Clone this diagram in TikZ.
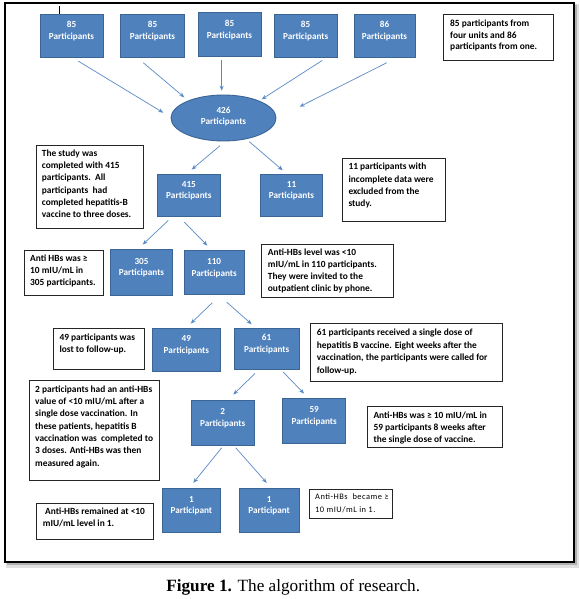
\documentclass[tikz,border=0pt]{standalone}
\usepackage{fontspec}
\setmainfont{Carlito}
\newfontfamily\capfont{Liberation Serif}
\newfontfamily\widefont[LetterSpace=6]{Carlito}
\usetikzlibrary{arrows.meta,shapes.geometric,calc}
\definecolor{boxblue}{HTML}{4F81BD}
\definecolor{boxedge}{HTML}{3A6595}
\definecolor{arrblue}{HTML}{5A8AC6}
\begin{document}
\begin{tikzpicture}[x=1pt,y=-1pt,
  pbox/.style={rectangle, draw=boxedge, fill=boxblue, line width=0.9pt, inner sep=0pt},
  btxt/.style={font=\fontsize{9.2}{11.5}\selectfont\bfseries, text=white, align=center, inner sep=0pt, yshift=4.5pt},
  notebox/.style={rectangle, draw=black!85, fill=white, line width=0.8pt, inner sep=0pt},
  ntxt/.style={anchor=north west, inner sep=0pt, align=left, font=\fontsize{9.4}{#1}\selectfont\bfseries},
  ntxt/.default={12.2},
  arr/.style={draw=arrblue, line width=0.7pt, -{Stealth[length=5pt,width=4pt]}}
]
% background and bounding box
\fill[white] (0,0) rectangle (579,599);
\useasboundingbox (0,0) rectangle (579,599);
% frame with shadow
\fill[black!12] (5.5,4.5) rectangle (578.5,567.5);
\fill[black!30] (6.5,5) rectangle (577,565);
\draw[line width=2pt, fill=white] (4.7,3) rectangle (574,561.5);
% stray tick mark
\draw[line width=0.9pt] (59,6) -- (59,15);
\draw[orange, line width=0.9pt] (59,15) -- (59,16.7);

% blue boxes
\node[pbox, minimum width=63pt, minimum height=43pt, label={[btxt]center:{85\\Participants}}] (b1) at (71.5,35.5) {};
\node[pbox, minimum width=63.6pt, minimum height=43pt, label={[btxt]center:{85\\Participants}}] (b2) at (152.5,35.5) {};
\node[pbox, minimum width=63pt, minimum height=43.3pt, label={[btxt]center:{85\\Participants}}] (b3) at (229.5,34.35) {};
\node[pbox, minimum width=63.3pt, minimum height=43pt, label={[btxt]center:{85\\Participants}}] (b4) at (305.65,35.5) {};
\node[pbox, minimum width=61pt, minimum height=43pt, label={[btxt]center:{86\\Participants}}] (b5) at (384.5,35.5) {};
\node[ellipse, draw=boxedge, fill=boxblue, line width=0.9pt, inner sep=0pt, minimum width=105pt, minimum height=46pt, label={[btxt, yshift=-3.2pt]center:{426\\Participants}}] (ell) at (223.5,118) {};
\node[pbox, minimum width=62.3pt, minimum height=42.7pt, label={[btxt]center:{415\\Participants}}] (b415) at (188.85,195.35) {};
\node[pbox, minimum width=61.6pt, minimum height=42.7pt, label={[btxt]center:{11\\Participants}}] (b11) at (291.5,195.35) {};
\node[pbox, minimum width=61.6pt, minimum height=45.7pt, label={[btxt]center:{305\\Participants}}] (b305) at (141.5,272.15) {};
\node[pbox, minimum width=60.3pt, minimum height=43.6pt, label={[btxt]center:{110\\Participants}}] (b110) at (214.15,272.5) {};
\node[pbox, minimum width=67.3pt, minimum height=43.7pt, label={[btxt]center:{49\\Participants}}] (b49) at (186.35,349.85) {};
\node[pbox, minimum width=64.7pt, minimum height=41pt, label={[btxt]center:{61\\Participants}}] (b61) at (266.65,348.5) {};
\node[pbox, minimum width=63.3pt, minimum height=45pt, label={[btxt]center:{2\\Participants}}] (b2p) at (222.65,422.5) {};
\node[pbox, minimum width=63pt, minimum height=44.7pt, label={[btxt]center:{59\\Participants}}] (b59) at (314.2,420.65) {};
\node[pbox, minimum width=57.3pt, minimum height=44.3pt, label={[btxt]center:{1\\Participant}}] (b1L) at (191.35,510.15) {};
\node[pbox, minimum width=59.7pt, minimum height=44.3pt, label={[btxt]center:{1\\Participant}}] (b1R) at (269.15,510.15) {};

% note frames
\node[notebox, minimum width=110pt, minimum height=46pt] (n1) at (498.3,37) {};
\node[notebox, minimum width=107.3pt, minimum height=83.3pt] (n2) at (89.65,186.65) {};
\node[notebox, minimum width=103.4pt, minimum height=62.7pt] (n3) at (394,189.65) {};
\node[notebox, minimum width=79pt, minimum height=44.3pt] (n4) at (63.8,272.85) {};
\node[notebox, minimum width=132.3pt, minimum height=53.4pt] (n5) at (327.15,271) {};
\node[notebox, minimum width=90.7pt, minimum height=40.7pt] (n6) at (98.65,348.65) {};
\node[notebox, minimum width=191.6pt, minimum height=58.4pt] (n7) at (406.5,352.5) {};
\node[notebox, minimum width=129.7pt, minimum height=100pt] (n8) at (94.15,430.7) {};
\node[notebox, minimum width=135pt, minimum height=41pt] (n9) at (434.8,426.8) {};
\node[notebox, minimum width=117.3pt, minimum height=36.4pt] (n10) at (94.65,521.5) {};
\node[notebox, minimum width=83.3pt, minimum height=29.3pt] (n11) at (350.65,503.65) {};

% note texts
\node[ntxt=11.7] (t1) at (450,18.1) {\strut 85 participants from\\four units and 86\\participants from one.};
\node[ntxt] (t2) at (41.7,147.8) {\strut The study was\\completed with 415\\participants.\ \ All\\participants\ \ had\\completed hepatitis-B\\vaccine to three doses.};
\node[ntxt] (t3) at (348.3,161.2) {\strut 11 participants with\\incomplete data were\\excluded from the\\study.};
\node[ntxt] (t4) at (30,252.8) {\strut Anti HBs was ≥\\10 mIU/mL in\\305 participants.};
\node[ntxt=11.9] (t5) at (267.7,247.4) {\strut Anti-HBs level was <10\\mIU/mL in 110 participants.\\They were invited to the\\outpatient clinic by phone.};
\node[ntxt=11.7] (t6) at (59.3,332.1) {\strut 49 participants was\\lost to follow-up.};
\node[ntxt=12.5] (t7) at (316.7,326.6) {\strut 61 participants received a single dose of\\hepatitis B vaccine. Eight weeks after the\\vaccination, the participants were called for\\follow-up.};
\node[ntxt=12.3] (t8) at (35,383.4) {\strut 2 participants had an anti-HBs\\value of <10 mIU/mL after a\\single dose vaccination. In\\these patients, hepatitis B\\vaccination was\ \ completed to\\3 doses. Anti-HBs was then\\measured again.};
\node[ntxt=12] (t9) at (373.3,409.6) {\strut Anti-HBs was ≥ 10 mIU/mL in\\59 participants 8 weeks after\\the single dose of vaccine.};
\node[ntxt=11.6] (t10) at (42.7,506.6) {\strut\hspace{2.3pt}Anti-HBs remained at <10\\mIU/mL level in 1.};
\node[anchor=north west, inner sep=0pt, align=left, font=\widefont\fontsize{8.4}{13.4}\selectfont] (t11) at (315,490) {\strut Anti-HBs\ \ became ≥\\10 mIU/mL in 1.};

% arrows
\draw[arr] ([shift={(6.8,3.7)}]b1.south) -- ([shift={(-60.2,-5.3)}]ell.center);
\draw[arr] ([shift={(-9.2,5.3)}]b2.south) -- ([shift={(-39.2,-20.7)}]ell.center);
\draw[arr] ([shift={(-7.8,4)}]b3.south) -- ([shift={(-1.8,-27.3)}]ell.center);
\draw[arr] ([shift={(16.6,3)}]b4.south) -- ([shift={(38.2,-18.7)}]ell.center);
\draw[arr] ([shift={(2.2,5.3)}]b5.south) -- ([shift={(76.2,-11.3)}]ell.center);
\draw[arr] ([shift={(-3.5,27.7)}]ell.center) -- ([shift={(2.85,-4)}]b415.north);
\draw[arr] ([shift={(25.8,23.7)}]ell.center) -- ([shift={(-8.8,-3.3)}]b11.north);
\draw[arr] ([shift={(-20.55,3.3)}]b415.south) -- ([shift={(1.2,-4.3)}]b305.north);
\draw[arr] ([shift={(-4.55,5)}]b415.south) -- ([shift={(-6.85,-4.7)}]b110.north);
\draw[arr] ([shift={(-1.85,8)}]b110.south) -- ([shift={(4.35,-4)}]b49.north);
\draw[arr] ([shift={(12.55,7.4)}]b110.south) -- ([shift={(-14.95,-3.3)}]b61.north);
\draw[arr] ([shift={(-11.65,4)}]b61.south) -- ([shift={(10.65,-5)}]b2p.north);
\draw[arr] ([shift={(16.65,2.7)}]b61.south) -- ([shift={(-10.2,-4.3)}]b59.north);
\draw[arr] ([shift={(-0.95,2.3)}]b2p.south) -- ([shift={(1.95,-4.7)}]b1L.north);
\draw[arr] ([shift={(13.05,2.3)}]b2p.south) -- ([shift={(-2.45,-4.7)}]b1R.north);

% caption
\node[anchor=base, inner sep=0pt, font=\capfont\fontsize{17.2}{20}\selectfont] (cap) at (293.2,591) {\textbf{Figure 1.} The algorithm of research.};
\end{tikzpicture}
\end{document}
